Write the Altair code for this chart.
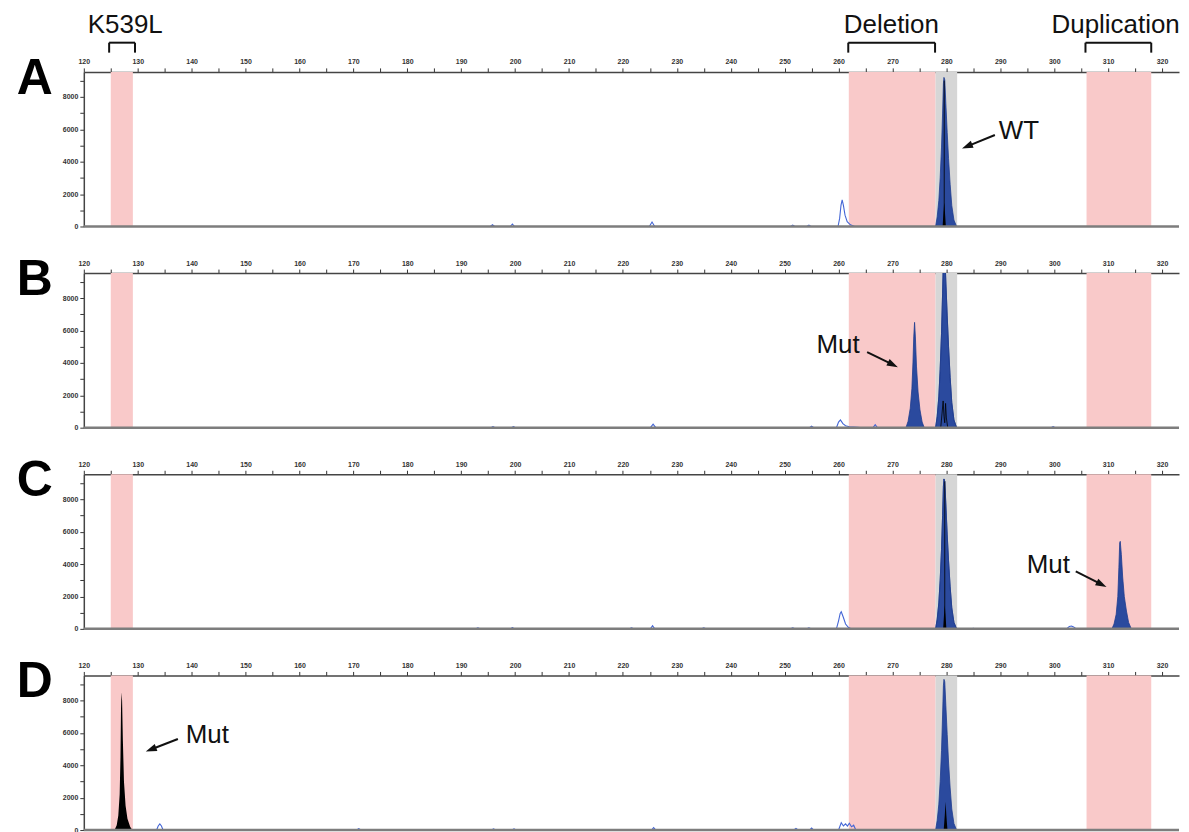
import math
import altair as alt
import pandas as pd

# ---------------- data ----------------
PANELS = ["A", "B", "C", "D"]

X_DOMAIN = [120, 323.15]
Y_DOMAIN = [0, 9540]
X_TICKS = list(range(120, 325, 5))
Y_TICKS = list(range(0, 10000, 1000))

# shaded bins (bp)
REGION_START = [125.0, 261.9, 278.0, 306.0]
REGION_END = [129.1, 278.0, 282.0, 318.0]
REGION_COLOR = ["#f9c9c9", "#f9c9c9", "#d6d6d6", "#f9c9c9"]

# brackets + labels above panel A
BRACKET_X0 = [124.7, 261.8, 305.8]
BRACKET_X1 = [129.5, 277.9, 318.0]
BRACKET_TEXT = ["K539L", "Deletion", "Duplication"]
BRACKET_TEXT_X = [127.7, 269.8, 311.4]
BRACKET_TOP_Y = 11343
BRACKET_FOOT_Y = 10728
BRACKET_TEXT_Y = 11959

# panel letters
LETTER_X = 110.9
LETTER_Y = 8186

# filled blue peaks (blue dye, labelled peaks)
WT_X = [278.0, 278.3, 278.6, 278.85, 279.1, 279.3, 279.45, 279.55, 279.7, 279.9, 280.15, 280.4, 280.7, 281.0, 281.4, 281.9]
WT_Y_A = [0, 600, 1600, 3000, 4900, 7000, 8800, 9200, 9050, 7600, 5800, 4200, 2600, 1300, 400, 0]
WT_Y_B = [0, 700, 1900, 3600, 5800, 8300, 10400, 11000, 10800, 9000, 6900, 5000, 3100, 1550, 480, 0]
WT_Y_C = [0, 600, 1600, 3000, 4900, 7000, 8800, 9250, 9100, 7700, 5800, 4200, 2600, 1300, 400, 0]
WT_Y_D = [0, 600, 1600, 3000, 4900, 7100, 8900, 9300, 9150, 7700, 5900, 4200, 2600, 1300, 400, 0]

MUT_B_X = [272.5, 272.9, 273.3, 273.6, 273.8, 273.95, 274.1, 274.25, 274.45, 274.75, 275.1, 275.5, 275.9]
MUT_B_Y = [0, 400, 1200, 2400, 4000, 5600, 6500, 5600, 3800, 2200, 1100, 350, 0]

MUT_C_X = [310.7, 311.1, 311.5, 311.8, 312.0, 312.15, 312.25, 312.45, 312.7, 313.0, 313.4, 313.8, 314.3]
MUT_C_Y = [0, 300, 900, 2000, 3800, 5300, 5400, 4600, 3200, 2000, 1100, 400, 0]

# filled black peaks (black dye)
MUT_D_X = [125.7, 126.1, 126.4, 126.65, 126.8, 126.9, 127.0, 127.1, 127.25, 127.45, 127.75, 128.1, 128.6, 129.0]
MUT_D_Y = [0, 300, 900, 2200, 4500, 7500, 8500, 8000, 5500, 3000, 1500, 700, 200, 0]

BLK_A_X = [279.3, 279.45, 279.6, 279.75, 279.9]
BLK_A_Y = [0, 800, 1500, 800, 0]
BLK_C_X = [279.4, 279.55, 279.7, 279.85, 280.0]
BLK_C_Y = [0, 800, 1450, 800, 0]
BLK_D_X = [279.5, 279.7, 279.85, 280.0, 280.2]
BLK_D_Y = [0, 900, 1750, 900, 0]

# black unfilled traces
SPIKE_A_X = [279.6, 279.6]
SPIKE_A_Y = [0, 9000]
SPIKE_C_X = [279.7, 279.7]
SPIKE_C_Y = [0, 9100]
BLK_B_X = [278.95, 279.2, 279.4, 279.55, 279.7, 279.85, 280.0, 280.25]
BLK_B_Y = [0, 900, 1650, 700, 300, 1500, 600, 0]

# blue unfilled (outline) trace bumps: (x, y) points
OUT_A = [
    [(195.4, 0), (195.8, 110), (196.2, 0)],
    [(199.1, 0), (199.5, 150), (199.9, 0)],
    [(224.9, 0), (225.4, 280), (225.9, 0)],
    [(251.1, 0), (251.5, 90), (251.9, 0)],
    [(254.1, 0), (254.5, 90), (254.9, 0)],
    [(259.9, 0), (260.2, 500), (260.45, 1300), (260.67, 1650), (260.9, 1300),
     (261.2, 700), (261.6, 300), (262.2, 100), (263.0, 0)],
]
OUT_B = [
    [(195.5, 0), (195.9, 60), (196.3, 0)],
    [(199.3, 0), (199.7, 60), (200.1, 0)],
    [(225.1, 0), (225.6, 220), (226.1, 0)],
    [(254.6, 0), (255.0, 90), (255.4, 0)],
    [(259.6, 0), (260.0, 350), (260.35, 480), (260.8, 250), (261.3, 120),
     (262.0, 60), (263.5, 30), (264.5, 0)],
    [(266.4, 0), (266.8, 180), (267.2, 0)],
    [(299.4, 0), (299.8, 60), (300.2, 0)],
]
OUT_C = [
    [(192.7, 0), (193.1, 60), (193.5, 0)],
    [(199.1, 0), (199.5, 80), (199.9, 0)],
    [(221.2, 0), (221.6, 60), (222.0, 0)],
    [(225.1, 0), (225.5, 200), (225.9, 0)],
    [(234.6, 0), (235.0, 60), (235.4, 0)],
    [(251.1, 0), (251.5, 60), (251.9, 0)],
    [(254.1, 0), (254.5, 60), (254.9, 0)],
    [(259.6, 0), (260.0, 500), (260.3, 950), (260.5, 1060), (260.9, 700),
     (261.3, 300), (261.8, 100), (262.4, 0)],
    [(284.6, 0), (285.0, 40), (285.4, 0)],
    [(302.3, 0), (302.8, 150), (303.2, 180), (303.6, 120), (304.1, 0)],
]
OUT_D = [
    [(133.5, 0), (133.8, 250), (134.1, 380), (134.4, 250), (134.7, 0)],
    [(170.6, 0), (171.0, 90), (171.4, 0)],
    [(195.6, 0), (196.0, 70), (196.4, 0)],
    [(199.4, 0), (199.8, 70), (200.2, 0)],
    [(225.3, 0), (225.7, 150), (226.1, 0)],
    [(251.7, 0), (252.1, 100), (252.5, 0)],
    [(254.6, 0), (255.0, 120), (255.4, 0)],
    [(260.0, 0), (260.5, 450), (260.9, 250), (261.3, 380), (261.65, 250),
     (262.0, 420), (262.4, 200), (262.8, 300), (263.2, 0)],
]

# callouts
CALL_PANEL = ["A", "B", "C", "D"]
CALL_TEXT = ["WT", "Mut", "Mut", "Mut"]
CALL_TEXT_X = [289.7, 255.9, 294.9, 138.9]
CALL_TEXT_Y = [5398, 4626, 3443, 5371]
ARROW_TAIL_X = [289.0, 265.3, 304.0, 137.45]
ARROW_TAIL_Y = [5644, 4665, 3547, 5619]
ARROW_HEAD_X = [282.9, 271.0, 309.7, 131.5]
ARROW_HEAD_Y = [4819, 3735, 2587, 4850]

# ---------------- styling ----------------
W, H = 1098, 155
FONT = "Liberation Sans"
BLUE_FILL = "#2b4a9e"
BLUE_LINE = "#4466d6"
HEAD_SIZE = 150
HEAD_PATH = "M0,-1L0.6,0.8L-0.6,0.8Z"

XS = alt.Scale(domain=X_DOMAIN, nice=False, zero=False)
YS = alt.Scale(domain=Y_DOMAIN, nice=False, zero=False)
XA = alt.Axis(orient="top", values=X_TICKS, title=None, grid=False,
              labelExpr="datum.value % 10 == 0 ? datum.label : ''", format="d",
              labelFlush=False, labelOverlap=False, tickSize=4, tickColor="#333",
              domainColor="#444", domainWidth=1.5, labelFont=FONT, labelFontSize=7,
              labelFontWeight="bold", labelColor="#333", labelPadding=3)
YA = alt.Axis(orient="left", values=Y_TICKS, title=None, grid=False,
              labelExpr="datum.value % 2000 == 0 ? datum.label : ''", format="d",
              labelFlush=False, labelOverlap=False, tickSize=4, tickColor="#333",
              domainColor="#444", domainWidth=1.5, labelFont=FONT, labelFontSize=7,
              labelFontWeight="bold", labelColor="#333", labelPadding=2)


def X(f):
    return alt.X(f, type="quantitative", scale=XS, axis=XA)


def Y(f):
    return alt.Y(f, type="quantitative", scale=YS, axis=YA)


def rows_from_xy(groups):
    rows = []
    for panel, gid, xs, ys in groups:
        for i, (x, y) in enumerate(zip(xs, ys)):
            rows.append({"panel": panel, "gid": gid, "x": x, "y": y, "o": i})
    return pd.DataFrame(rows)


def rows_from_pts(panel, bumps):
    groups = []
    for k, pts in enumerate(bumps):
        groups.append((panel, f"b{k}", [p[0] for p in pts], [p[1] for p in pts]))
    return groups


blue_fill_df = rows_from_xy([
    ("A", "wt", WT_X, WT_Y_A),
    ("B", "wt", WT_X, WT_Y_B), ("B", "mut", MUT_B_X, MUT_B_Y),
    ("C", "wt", WT_X, WT_Y_C), ("C", "mut", MUT_C_X, MUT_C_Y),
    ("D", "wt", WT_X, WT_Y_D),
])
black_fill_df = rows_from_xy([
    ("A", "k", BLK_A_X, BLK_A_Y),
    ("C", "k", BLK_C_X, BLK_C_Y),
    ("D", "mut", MUT_D_X, MUT_D_Y), ("D", "k", BLK_D_X, BLK_D_Y),
])
black_line_df = rows_from_xy([
    ("A", "s", SPIKE_A_X, SPIKE_A_Y),
    ("B", "s", BLK_B_X, BLK_B_Y),
    ("C", "s", SPIKE_C_X, SPIKE_C_Y),
])
blue_line_df = rows_from_xy(
    rows_from_pts("A", OUT_A) + rows_from_pts("B", OUT_B)
    + rows_from_pts("C", OUT_C) + rows_from_pts("D", OUT_D)
)

region_df = pd.DataFrame({"start": REGION_START, "end": REGION_END, "color": REGION_COLOR})

# arrow geometry (head orientation in screen space)
KX = W / (X_DOMAIN[1] - X_DOMAIN[0])
KY = H / (Y_DOMAIN[1] - Y_DOMAIN[0])
arrow_rows = []
r = math.sqrt(HEAD_SIZE) / 2
for p, tx, ty, hx, hy in zip(CALL_PANEL, ARROW_TAIL_X, ARROW_TAIL_Y, ARROW_HEAD_X, ARROW_HEAD_Y):
    dxp = (hx - tx) * KX
    dyp = -(hy - ty) * KY
    L = math.hypot(dxp, dyp)
    ux, uy = dxp / L, dyp / L
    ang = math.degrees(math.atan2(ux, -uy)) % 360
    cx = hx - r * ux / KX
    cy = hy + r * uy / KY
    arrow_rows.append({"panel": p, "tx": tx, "ty": ty, "cx": cx, "cy": cy, "ang": ang})
arrow_df = pd.DataFrame(arrow_rows)
call_df = pd.DataFrame({"panel": CALL_PANEL, "t": CALL_TEXT, "x": CALL_TEXT_X, "y": CALL_TEXT_Y})


def panel(p):
    layers = []
    layers.append(
        alt.Chart(region_df).mark_rect().encode(
            x=X("start"), x2=alt.X2("end"), color=alt.Color("color:N", scale=None)
        )
    )
    d = blue_line_df[blue_line_df.panel == p]
    if len(d):
        layers.append(alt.Chart(d).mark_line(color=BLUE_LINE, strokeWidth=1.1, clip=True).encode(
            x=X("x"), y=Y("y"), detail="gid:N", order="o:Q"))
    d = blue_fill_df[blue_fill_df.panel == p]
    if len(d):
        layers.append(alt.Chart(d).mark_area(color=BLUE_FILL, opacity=1, clip=True,
                                             line={"color": "#1f3c8f", "strokeWidth": 0.8}).encode(
            x=X("x"), y=Y("y"), detail="gid:N"))
    d = black_fill_df[black_fill_df.panel == p]
    if len(d):
        layers.append(alt.Chart(d).mark_area(color="#000000", opacity=1, clip=True).encode(
            x=X("x"), y=Y("y"), detail="gid:N"))
    d = black_line_df[black_line_df.panel == p]
    if len(d):
        layers.append(alt.Chart(d).mark_line(color="#000000", strokeWidth=0.8, clip=True).encode(
            x=X("x"), y=Y("y"), detail="gid:N", order="o:Q"))
    # baseline
    layers.append(alt.Chart(pd.DataFrame({"y": [0]})).mark_rule(color="#7d7d7d", strokeWidth=2.5).encode(y=Y("y")))
    # panel letter
    layers.append(alt.Chart(pd.DataFrame({"x": [LETTER_X], "y": [LETTER_Y], "t": [p]})).mark_text(
        font=FONT, fontSize=50, fontWeight="bold", align="center", baseline="alphabetic", color="#000"
    ).encode(x=X("x"), y=Y("y"), text="t:N"))
    # callouts
    d = call_df[call_df.panel == p]
    layers.append(alt.Chart(d).mark_text(font=FONT, fontSize=26, align="left", baseline="alphabetic",
                                         color="#111").encode(x=X("x"), y=Y("y"), text="t:N"))
    d = arrow_df[arrow_df.panel == p]
    layers.append(alt.Chart(d).mark_rule(color="#111", strokeWidth=2).encode(
        x=X("tx"), y=Y("ty"), x2=alt.X2("cx"), y2=alt.Y2("cy")))
    layers.append(alt.Chart(d).mark_point(shape=HEAD_PATH, size=HEAD_SIZE, filled=True, opacity=1,
                                          color="#111", strokeWidth=0).encode(
        x=X("cx"), y=Y("cy"), angle=alt.Angle("ang:Q", scale=None)))
    if p == "A":
        bdf = pd.DataFrame({"x0": BRACKET_X0, "x1": BRACKET_X1, "tx": BRACKET_TEXT_X, "t": BRACKET_TEXT,
                            "top": [BRACKET_TOP_Y] * 3, "foot": [BRACKET_FOOT_Y] * 3,
                            "ty": [BRACKET_TEXT_Y] * 3})
        layers.append(alt.Chart(bdf).mark_rule(color="#111", strokeWidth=2).encode(
            x=X("x0"), x2=alt.X2("x1"), y=Y("top")))
        layers.append(alt.Chart(bdf).mark_rule(color="#111", strokeWidth=2).encode(
            x=X("x0"), y=Y("top"), y2=alt.Y2("foot")))
        layers.append(alt.Chart(bdf).mark_rule(color="#111", strokeWidth=2).encode(
            x=X("x1"), y=Y("top"), y2=alt.Y2("foot")))
        layers.append(alt.Chart(bdf).mark_text(font=FONT, fontSize=26, align="center", baseline="alphabetic",
                                               color="#111").encode(x=X("tx"), y=Y("ty"), text="t:N"))
    return alt.layer(*layers).properties(width=W, height=H)


chart = alt.vconcat(*[panel(p) for p in PANELS], spacing=46.7, bounds="flush").properties(
    padding={"left": 8, "top": 2, "right": 0, "bottom": 0}
).configure_view(strokeWidth=0)

chart.save("out.html", embed_options={"renderer": "svg", "actions": False})
